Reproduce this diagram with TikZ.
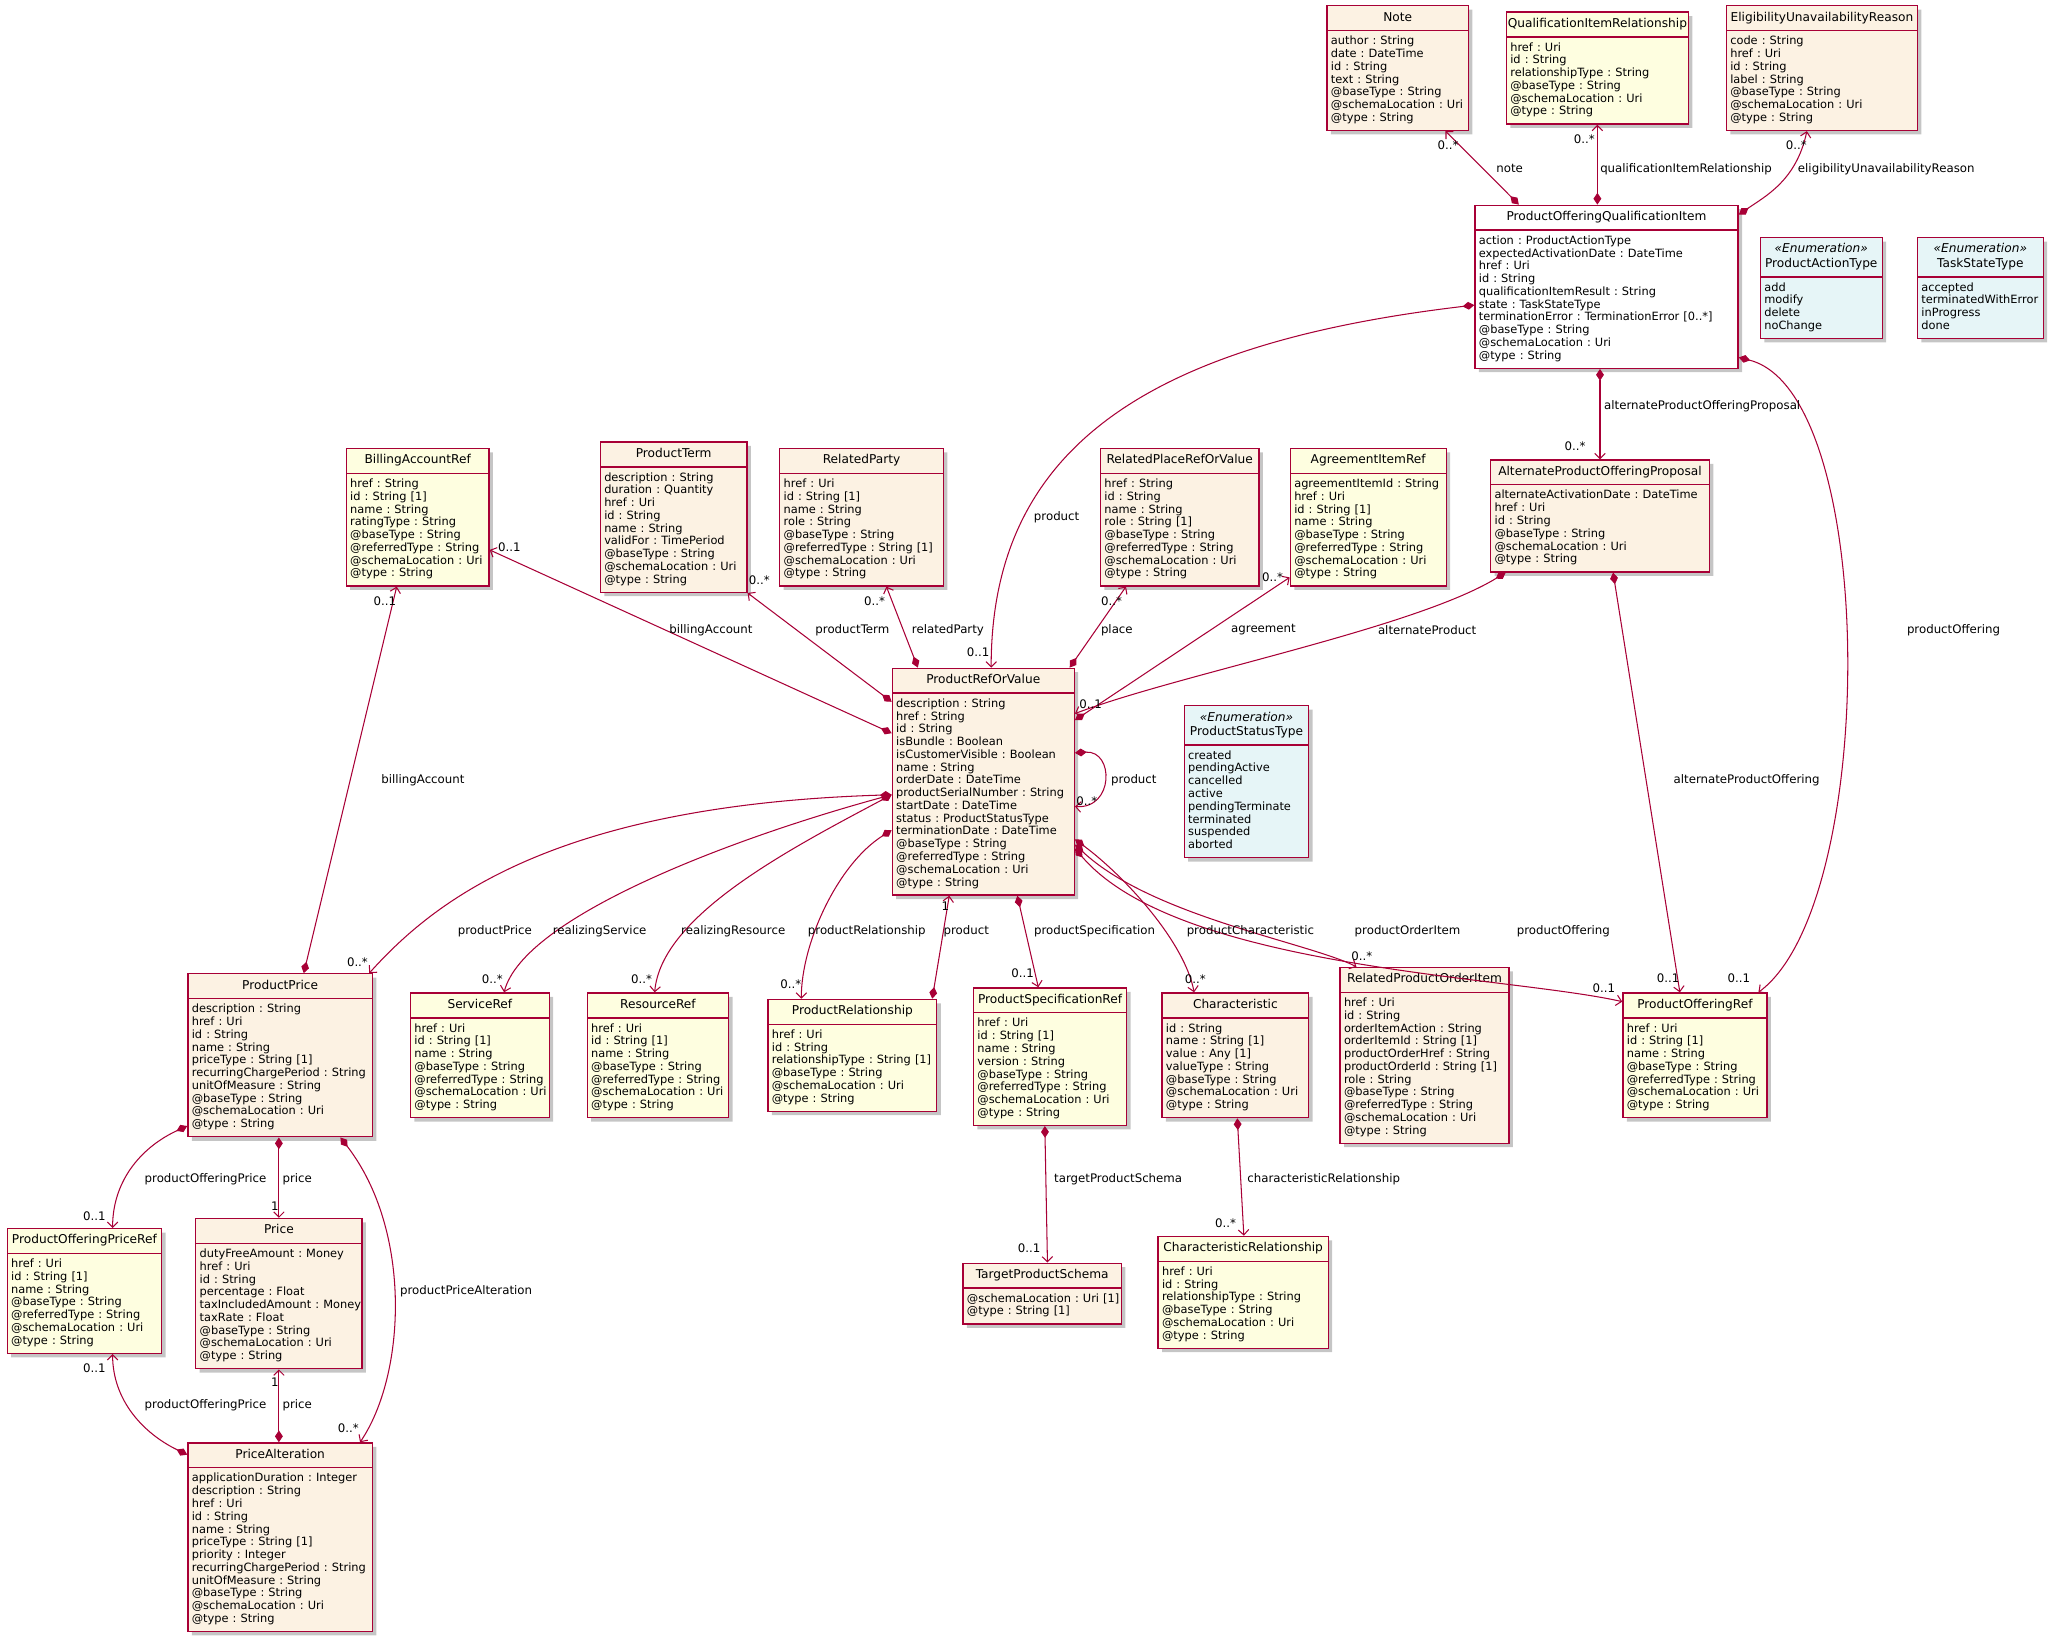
\documentclass[tikz,border=0pt]{standalone}
\usepackage{fontspec}
\setmainfont{DejaVu Sans}
\usetikzlibrary{shapes.multipart,shadows,arrows.meta}
\definecolor{umlred}{HTML}{A80036}
\definecolor{resfill}{HTML}{FCF2E3}
\definecolor{reffill}{HTML}{FEFEE0}
\definecolor{enmfill}{HTML}{E6F5F7}
\setlength{\parindent}{0pt}
\frenchspacing
\newcommand{\ctitle}[1]{\makebox[\linewidth][c]{\strut#1}}
\newcommand{\etitle}[1]{\makebox[\linewidth][c]{\strut\textit{«Enumeration»}}\\\makebox[\linewidth][c]{\strut#1}}
\newcommand{\attrs}[1]{\fontsize{8.7}{9.75}\selectfont\begin{tabular}{@{}l@{}}#1\end{tabular}}
\tikzset{
  cls/.style={rectangle split, rectangle split parts=2, draw=umlred, line width=1pt,
    anchor=west, align=left, inner xsep=3pt, inner ysep=3.5pt,
    font=\fontsize{9.3}{11}\selectfont,
    drop shadow={shadow xshift=3pt, shadow yshift=-3pt, fill=black!45, opacity=.5}},
  rescls/.style={cls, fill=resfill, text width=#1},
  refcls/.style={cls, fill=reffill, text width=#1},
  pivcls/.style={cls, fill=white, text width=#1},
  enmcls/.style={cls, fill=enmfill, text width=#1},
  comp/.style={draw=umlred, line width=.8pt, {Diamond[length=9pt,width=6pt]}-{Straight Barb[length=4pt,width=8pt]}},
  lbl/.style={font=\fontsize{9}{11}\selectfont, inner sep=0pt}
}
\begin{document}
\begin{tikzpicture}[x=1pt,y=-1pt]
\useasboundingbox (0,0) rectangle (1568,1251);

\node[rescls=102pt] (note) at (1013,52) {\ctitle{Note}\nodepart{two}\attrs{author : String\\ date : DateTime\\ id : String\\ text : String\\ @baseType : String\\ @schemaLocation : Uri\\ @type : String}};
\node[refcls=133pt] (qir) at (1150,52) {\ctitle{QualificationItemRelationship}\nodepart{two}\attrs{href : Uri\\ id : String\\ relationshipType : String\\ @baseType : String\\ @schemaLocation : Uri\\ @type : String}};
\node[rescls=140pt] (eur) at (1318,52) {\ctitle{EligibilityUnavailabilityReason}\nodepart{two}\attrs{code : String\\ href : Uri\\ id : String\\ label : String\\ @baseType : String\\ @schemaLocation : Uri\\ @type : String}};

\node[pivcls=195pt] (poqi) at (1126,219) {\ctitle{ProductOfferingQualificationItem}\nodepart{two}\attrs{action : ProductActionType\\ expectedActivationDate : DateTime\\ href : Uri\\ id : String\\ qualificationItemResult : String\\ state : TaskStateType\\ terminationError : TerminationError [0..*]\\ @baseType : String\\ @schemaLocation : Uri\\ @type : String}};
\node[enmcls=87pt] (pat) at (1344,220) {\etitle{ProductActionType}\nodepart{two}\attrs{add\\ modify\\ delete\\ noChange}};
\node[enmcls=90pt] (tst) at (1464,220) {\etitle{TaskStateType}\nodepart{two}\attrs{accepted\\ terminatedWithError\\ inProgress\\ done}};

\node[refcls=103pt] (bar) at (264,395) {\ctitle{BillingAccountRef}\nodepart{two}\attrs{href : String\\ id : String [1]\\ name : String\\ ratingType : String\\ @baseType : String\\ @referredType : String\\ @schemaLocation : Uri\\ @type : String}};
\node[rescls=106pt] (pterm) at (458,395) {\ctitle{ProductTerm}\nodepart{two}\attrs{description : String\\ duration : Quantity\\ href : Uri\\ id : String\\ name : String\\ validFor : TimePeriod\\ @baseType : String\\ @schemaLocation : Uri\\ @type : String}};
\node[rescls=119pt] (rparty) at (595,395) {\ctitle{RelatedParty}\nodepart{two}\attrs{href : Uri\\ id : String [1]\\ name : String\\ role : String\\ @baseType : String\\ @referredType : String [1]\\ @schemaLocation : Uri\\ @type : String}};
\node[rescls=115pt] (rplace) at (840,395) {\ctitle{RelatedPlaceRefOrValue}\nodepart{two}\attrs{href : String\\ id : String\\ name : String\\ role : String [1]\\ @baseType : String\\ @referredType : String\\ @schemaLocation : Uri\\ @type : String}};
\node[refcls=113pt] (air) at (985,395) {\ctitle{AgreementItemRef}\nodepart{two}\attrs{agreementItemId : String\\ href : Uri\\ id : String [1]\\ name : String\\ @baseType : String\\ @referredType : String\\ @schemaLocation : Uri\\ @type : String}};
\node[rescls=161pt] (apop) at (1138,394) {\ctitle{AlternateProductOfferingProposal}\nodepart{two}\attrs{alternateActivationDate : DateTime\\ href : Uri\\ id : String\\ @baseType : String\\ @schemaLocation : Uri\\ @type : String}};

\node[rescls=133pt] (prov) at (681,597) {\ctitle{ProductRefOrValue}\nodepart{two}\attrs{description : String\\ href : String\\ id : String\\ isBundle : Boolean\\ isCustomerVisible : Boolean\\ name : String\\ orderDate : DateTime\\ productSerialNumber : String\\ startDate : DateTime\\ status : ProductStatusType\\ terminationDate : DateTime\\ @baseType : String\\ @referredType : String\\ @schemaLocation : Uri\\ @type : String}};
\node[enmcls=89pt] (pst) at (904,597) {\etitle{ProductStatusType}\nodepart{two}\attrs{created\\ pendingActive\\ cancelled\\ active\\ pendingTerminate\\ terminated\\ suspended\\ aborted}};

\node[rescls=135pt] (pprice) at (143,806) {\ctitle{ProductPrice}\nodepart{two}\attrs{description : String\\ href : Uri\\ id : String\\ name : String\\ priceType : String [1]\\ recurringChargePeriod : String\\ unitOfMeasure : String\\ @baseType : String\\ @schemaLocation : Uri\\ @type : String}};
\node[refcls=100pt] (sref) at (313,806) {\ctitle{ServiceRef}\nodepart{two}\attrs{href : Uri\\ id : String [1]\\ name : String\\ @baseType : String\\ @referredType : String\\ @schemaLocation : Uri\\ @type : String}};
\node[refcls=102pt] (rref) at (448,806) {\ctitle{ResourceRef}\nodepart{two}\attrs{href : Uri\\ id : String [1]\\ name : String\\ @baseType : String\\ @referredType : String\\ @schemaLocation : Uri\\ @type : String}};
\node[refcls=123pt] (prel) at (586,806) {\ctitle{ProductRelationship}\nodepart{two}\attrs{href : Uri\\ id : String\\ relationshipType : String [1]\\ @baseType : String\\ @schemaLocation : Uri\\ @type : String}};
\node[refcls=111pt] (psr) at (743,807) {\ctitle{ProductSpecificationRef}\nodepart{two}\attrs{href : Uri\\ id : String [1]\\ name : String\\ version : String\\ @baseType : String\\ @referredType : String\\ @schemaLocation : Uri\\ @type : String}};
\node[rescls=106pt] (chr) at (887,806) {\ctitle{Characteristic}\nodepart{two}\attrs{id : String\\ name : String [1]\\ value : Any [1]\\ valueType : String\\ @baseType : String\\ @schemaLocation : Uri\\ @type : String}};
\node[rescls=123pt] (rpoi) at (1023,806) {\ctitle{RelatedProductOrderItem}\nodepart{two}\attrs{href : Uri\\ id : String\\ orderItemAction : String\\ orderItemId : String [1]\\ productOrderHref : String\\ productOrderId : String [1]\\ role : String\\ @baseType : String\\ @referredType : String\\ @schemaLocation : Uri\\ @type : String}};
\node[refcls=104pt] (por) at (1239,806) {\ctitle{ProductOfferingRef}\nodepart{two}\attrs{href : Uri\\ id : String [1]\\ name : String\\ @baseType : String\\ @referredType : String\\ @schemaLocation : Uri\\ @type : String}};

\node[refcls=112pt] (popr) at (5,986) {\ctitle{ProductOfferingPriceRef}\nodepart{two}\attrs{href : Uri\\ id : String [1]\\ name : String\\ @baseType : String\\ @referredType : String\\ @schemaLocation : Uri\\ @type : String}};
\node[rescls=121pt] (price) at (149,988) {\ctitle{Price}\nodepart{two}\attrs{dutyFreeAmount : Money\\ href : Uri\\ id : String\\ percentage : Float\\ taxIncludedAmount : Money\\ taxRate : Float\\ @baseType : String\\ @schemaLocation : Uri\\ @type : String}};
\node[rescls=115pt] (tps) at (735,988) {\ctitle{TargetProductSchema}\nodepart{two}\attrs{@schemaLocation : Uri [1]\\ @type : String [1]}};
\node[refcls=124pt] (crel) at (884,987) {\ctitle{CharacteristicRelationship}\nodepart{two}\attrs{href : Uri\\ id : String\\ relationshipType : String\\ @baseType : String\\ @schemaLocation : Uri\\ @type : String}};
\node[rescls=135pt] (palt) at (143,1174) {\ctitle{PriceAlteration}\nodepart{two}\attrs{applicationDuration : Integer\\ description : String\\ href : Uri\\ id : String\\ name : String\\ priceType : String [1]\\ priority : Integer\\ recurringChargePeriod : String\\ unitOfMeasure : String\\ @baseType : String\\ @schemaLocation : Uri\\ @type : String}};

\draw[comp] (poqi.north -| 1160,0) -- (note.south -| 1104,0);
\draw[comp] (poqi.north -| 1220,0) -- (qir.south -| 1220,0);
\draw[comp] (poqi.east |- 0,164) .. controls (1348,150) and (1372,138) .. (eur.south -| 1380,0);
\draw[comp] (poqi.west |- 0,233) .. controls (880,262) and (757,340) .. (prov.north -| 757,0);
\draw[comp] (poqi.south -| 1222,0) -- (apop.north -| 1222,0);
\draw[comp] (poqi.east |- 0,273) .. controls (1435,300) and (1435,690) .. (por.north -| 1343,0);
\draw[comp] (apop.south -| 1150,0) .. controls (1080,480) and (900,515) .. (prov.east |- 0,545);
\draw[comp] (apop.south -| 1232,0) -- (por.north -| 1283,0);
\draw[comp] (prov.east |- 0,550) -- (air.west |- 0,441);
\draw[comp] (prov.west |- 0,560) -- (bar.east |- 0,420);
\draw[comp] (prov.west |- 0,536) -- (pterm.south east);
\draw[comp] (prov.north -| 701,0) -- (rparty.south -| 677,0);
\draw[comp] (prov.north -| 817,0) -- (rplace.south -| 860,0);
\draw[comp] (prov.east |- 0,575) .. controls +(30,-2) and +(30,2) .. (prov.east |- 0,616);
\draw[comp] (prov.west |- 0,607) .. controls (420,615) and (330,690) .. (pprice.north -| 282,0);
\draw[comp] (prov.west |- 0,607) .. controls (560,640) and (400,700) .. (sref.north -| 385,0);
\draw[comp] (prov.west |- 0,607) .. controls (600,650) and (505,700) .. (rref.north -| 500,0);
\draw[comp] (prov.west |- 0,634) .. controls (640,660) and (612,720) .. (prel.north -| 612,0);
\draw[comp] (prel.north -| 712,0) -- (prov.south -| 725,0);
\draw[comp] (prov.south -| 777,0) -- (psr.north -| 793,0);
\draw[comp] (prov.east |- 0,641) .. controls (860,670) and (905,720) .. (chr.north -| 912,0);
\draw[comp] (prov.east |- 0,645) .. controls (880,700) and (1000,720) .. (rpoi.north -| 1036,0);
\draw[comp] (prov.east |- 0,648) .. controls (900,740) and (1150,745) .. (por.west |- 0,765);
\draw[comp] (pprice.north -| 232,0) -- (bar.south -| 303,0);
\draw[comp] (pprice.west |- 0,860) .. controls (110,875) and (86,900) .. (popr.north -| 86,0);
\draw[comp] (pprice.south -| 213,0) -- (price.north -| 213,0);
\draw[comp] (pprice.south -| 260,0) .. controls (315,940) and (310,1050) .. (palt.north -| 275,0);
\draw[comp] (palt.north -| 213,0) -- (price.south -| 213,0);
\draw[comp] (palt.west |- 0,1111) .. controls (110,1095) and (86,1070) .. (popr.south -| 86,0);
\draw[comp] (psr.south -| 798,0) -- (tps.north -| 800,0);
\draw[comp] (chr.south -| 945,0) -- (crel.north -| 950,0);

\node[lbl] (m1) at (1106,111) {0..*};
\node[lbl] (l1) at (1153,129) {note};
\node[lbl] (m2) at (1210,106) {0..*};
\node[lbl, anchor=west] (l2) at (1222,129) {qualificationItemRelationship};
\node[lbl] (m3) at (1372,111) {0..*};
\node[lbl, anchor=west] (l3) at (1373,129) {eligibilityUnavailabilityReason};
\node[lbl] (l4) at (807,395) {product};
\node[lbl] (m4) at (747,498) {0..1};
\node[lbl, anchor=west] (l5) at (1225,310) {alternateProductOfferingProposal};
\node[lbl] (m5) at (1203,341) {0..*};
\node[lbl] (l6) at (1492,481) {productOffering};
\node[lbl] (m6) at (1328,747) {0..1};
\node[lbl] (m7) at (389,418) {0..1};
\node[lbl] (l7) at (543,481) {billingAccount};
\node[lbl] (m8) at (580,443) {0..*};
\node[lbl] (l8) at (651,481) {productTerm};
\node[lbl] (m9) at (668,459) {0..*};
\node[lbl] (l9) at (724,481) {relatedParty};
\node[lbl] (m10) at (849,459) {0..*};
\node[lbl] (l10) at (853,481) {place};
\node[lbl] (m11) at (972,441) {0..*};
\node[lbl] (l11) at (965,481) {agreement};
\node[lbl] (l12) at (1090,481) {alternateProduct};
\node[lbl] (m12) at (833,538) {0..1};
\node[lbl] (l13) at (866,596) {product};
\node[lbl] (m13) at (830,612) {0..*};
\node[lbl] (m14) at (294,459) {0..1};
\node[lbl] (l14) at (323,596) {billingAccount};
\node[lbl] (l15) at (1334,596) {alternateProductOffering};
\node[lbl] (m15) at (1274,747) {0..1};
\node[lbl] (l16) at (378,711) {productPrice};
\node[lbl] (m16) at (273,735) {0..*};
\node[lbl] (l17) at (458,711) {realizingService};
\node[lbl] (m17) at (376,748) {0..*};
\node[lbl] (l18) at (560,711) {realizingResource};
\node[lbl] (m18) at (490,748) {0..*};
\node[lbl] (l19) at (662,711) {productRelationship};
\node[lbl] (m19) at (604,752) {0..*};
\node[lbl] (l20) at (738,711) {product};
\node[lbl] (m20) at (722,692) {1};
\node[lbl] (l21) at (836,711) {productSpecification};
\node[lbl] (m21) at (781,743) {0..1};
\node[lbl] (l22) at (955,711) {productCharacteristic};
\node[lbl] (m22) at (913,748) {0..*};
\node[lbl] (l23) at (1075,711) {productOrderItem};
\node[lbl] (m23) at (1040,730) {0..*};
\node[lbl] (l24) at (1194,711) {productOffering};
\node[lbl] (m24) at (1225,755) {0..1};
\node[lbl] (l25) at (157,901) {productOfferingPrice};
\node[lbl] (m25) at (72,929) {0..1};
\node[lbl] (l26) at (227,901) {price};
\node[lbl] (m26) at (210,921) {1};
\node[lbl] (l27) at (356,986) {productPriceAlteration};
\node[lbl] (m27) at (266,1091) {0..*};
\node[lbl] (l28) at (227,1073) {price};
\node[lbl] (m28) at (210,1056) {1};
\node[lbl] (l29) at (157,1073) {productOfferingPrice};
\node[lbl] (m29) at (72,1045) {0..1};
\node[lbl] (l30) at (854,901) {targetProductSchema};
\node[lbl] (m30) at (786,953) {0..1};
\node[lbl] (l31) at (1011,901) {characteristicRelationship};
\node[lbl] (m31) at (936,934) {0..*};
\end{tikzpicture}
\end{document}
